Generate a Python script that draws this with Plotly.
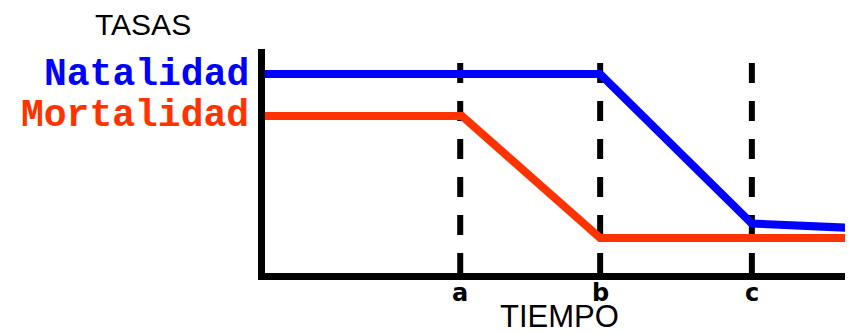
import plotly.graph_objects as go

# tiempo (0-100) y tasas (0-100)
x_natalidad = [0, 57.0, 82.8, 100]
y_natalidad = [88.8, 88.8, 22.1, 20.1]
x_mortalidad = [0, 33.5, 57.0, 100]
y_mortalidad = [70.1, 70.1, 15.6, 15.6]
cortes = [33.2, 57.0, 82.8]
etiquetas_cortes = ["a", "b", "c"]

AZUL = "#0000FF"
ROJO = "#FF3300"

fig = go.Figure()
fig.add_trace(go.Scatter(x=x_natalidad, y=y_natalidad, mode="lines",
                         line=dict(color=AZUL, width=8), name="Natalidad"))
fig.add_trace(go.Scatter(x=x_mortalidad, y=y_mortalidad, mode="lines",
                         line=dict(color=ROJO, width=8), name="Mortalidad"))

for xc in cortes:
    fig.add_shape(type="line", xref="x", yref="y", x0=xc, x1=xc, y0=0, y1=100,
                  line=dict(color="black", width=6, dash="20px,18px"), layer="below")

for xc, lab in zip(cortes, etiquetas_cortes):
    fig.add_annotation(x=xc, y=0, xref="x", yref="paper", yanchor="middle", yshift=-20,
                       text=f"<b>{lab}</b>", showarrow=False,
                       font=dict(family="DejaVu Sans", size=24, color="black"))

fig.add_annotation(x=0, y=y_natalidad[0], xref="x", yref="y", xanchor="right",
                   xshift=-14, text="<b>Natalidad</b>", showarrow=False,
                   font=dict(family="Liberation Mono", size=38, color=AZUL))
fig.add_annotation(x=0, y=y_mortalidad[0], xref="x", yref="y", xanchor="right",
                   xshift=-14, text="<b>Mortalidad</b>", showarrow=False,
                   font=dict(family="Liberation Mono", size=38, color=ROJO))
fig.add_annotation(x=-0.2075, y=1.1116, xref="paper", yref="paper",
                   xanchor="center", yanchor="middle", text="TASAS", showarrow=False,
                   font=dict(family="Liberation Sans", size=30, color="black"))
fig.add_annotation(x=0.5017, y=-0.1964, xref="paper", yref="paper",
                   xanchor="center", yanchor="middle", text="TIEMPO", showarrow=False,
                   font=dict(family="Liberation Sans", size=31, color="black"))

fig.update_xaxes(range=[0, 100], showline=True, linecolor="black", linewidth=7,
                 showgrid=False, zeroline=False, showticklabels=False, ticks="",
                 automargin=False)
fig.update_yaxes(range=[0, 100], showline=True, linecolor="black", linewidth=7,
                 showgrid=False, zeroline=False, showticklabels=False, ticks="",
                 automargin=False)

fig.update_layout(width=853, height=325, margin=dict(l=257, r=8, t=41, b=60),
                  plot_bgcolor="white", paper_bgcolor="white", showlegend=False,
                  font=dict(family="Liberation Sans"))
fig.write_html("out.html")
